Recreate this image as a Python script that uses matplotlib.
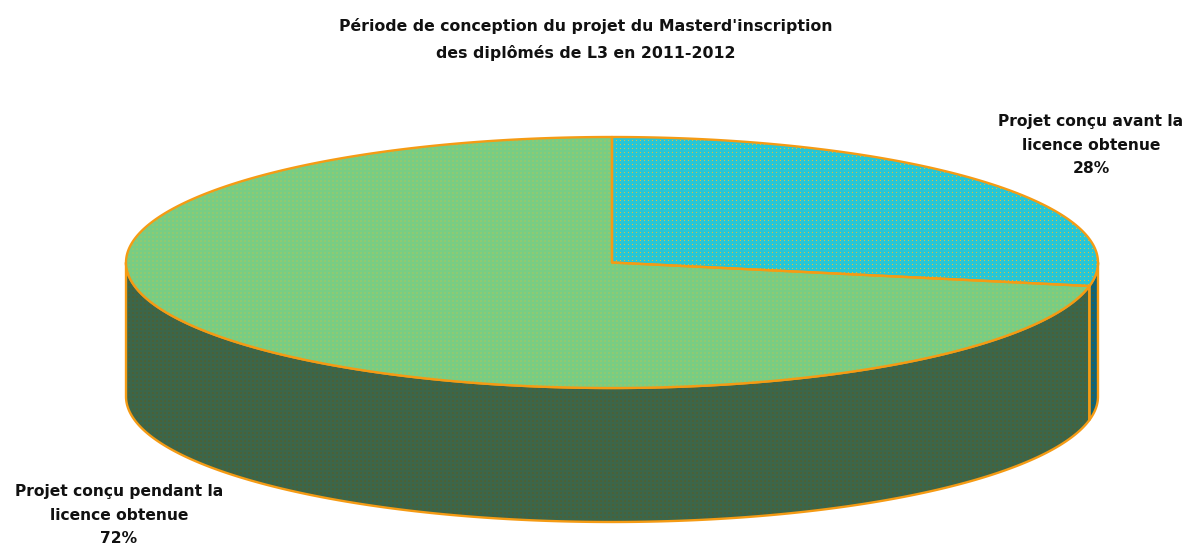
import numpy as np
import matplotlib
matplotlib.use('Agg')
from matplotlib import pyplot as plt

plt.rcParams['font.family'] = ['DejaVu Sans']

titre = "Période de conception du projet du Masterd'inscription\ndes diplômés de L3 en 2011-2012"
parts = [28, 72]
noms = ["Projet conçu avant la\nlicence obtenue", "Projet conçu pendant la\nlicence obtenue"]

ORANGE = '#F59B14'
# trame : couleur de fond, couleur des points, pas, taille du point
trames_dessus = [('#27C6D6', '#E0BE3A', 4, 1), ('#78CD84', '#8ECA72', 4, 2)]
trames_cote = [('#0F6478', '#2E5F50', 4, 2), ('#3C664A', '#4A6138', 4, 2)]

# ellipse du camembert, en pixels de l'image
LARG, HAUT = 1187, 547
CX, CY, RX, RY, EP = 612, 262.5, 486, 125.5, 134


def couleur_rgb(c):
    return np.array(matplotlib.colors.to_rgb(c))


def trame(fond, pts, pas, taille):
    # image de la taille de la figure, avec le motif tramee du graphique d'origine
    yy, xx = np.mgrid[0:HAUT, 0:LARG]
    masque = (xx % pas < taille) & (yy % pas < taille)
    img = np.zeros((HAUT, LARG, 3))
    img[:] = couleur_rgb(fond)
    img[masque] = couleur_rgb(pts)
    return img


def point(angle, dy=0):
    # angle en degres, 0 en haut, sens horaire
    a = np.radians(angle)
    return CX + RX * np.sin(a), CY - RY * np.cos(a) + dy


def arc(a1, a2, dy=0):
    t = np.linspace(a1, a2, 400)
    return point(t, dy)


def remplit(x, y, t, zorder):
    contour = ax.fill(x, y, facecolor='none', edgecolor=ORANGE, linewidth=1.7,
                      joinstyle='round', zorder=zorder + 1)[0]
    im = ax.imshow(trame(*t), extent=(0, LARG, HAUT, 0), interpolation='nearest',
                   aspect='auto', zorder=zorder)
    im.set_clip_path(contour)


def dessine_mur(a1, a2, t):
    # seule la partie avant (90-270 degres) du cote est visible
    a1, a2 = max(a1, 90), min(a2, 270)
    if a2 <= a1:
        return
    x1, y1 = arc(a1, a2)
    x2, y2 = arc(a2, a1, EP)
    remplit(np.r_[x1, x2], np.r_[y1, y2], t, 2)


fig = plt.figure(figsize=(11.87, 5.47), dpi=100)
ax = fig.add_axes([0, 0, 1, 1])

debut = 0
for part, t_dessus, t_cote in zip(parts, trames_dessus, trames_cote):
    fin = debut + part * 3.6
    dessine_mur(debut, fin, t_cote)
    x, y = arc(debut, fin)
    remplit(np.r_[CX, x], np.r_[CY, y], t_dessus, 4)
    debut = fin

ax.set_xlim(0, LARG)
ax.set_ylim(HAUT, 0)
ax.axis('off')

ax.text(585.5, 39.5, titre, ha='center', va='center', fontsize=11.3, fontweight='bold',
        linespacing=1.8, color='#111111')
ax.text(1091, 145, noms[0] + "\n%d%%" % parts[0], ha='center', va='center', fontsize=11.2,
        fontweight='bold', linespacing=1.7, color='#111111')
ax.text(119, 515, noms[1] + "\n%d%%" % parts[1], ha='center', va='center', fontsize=11.2,
        fontweight='bold', linespacing=1.7, color='#111111')

fig.savefig('out.png', dpi=100, facecolor='white')
